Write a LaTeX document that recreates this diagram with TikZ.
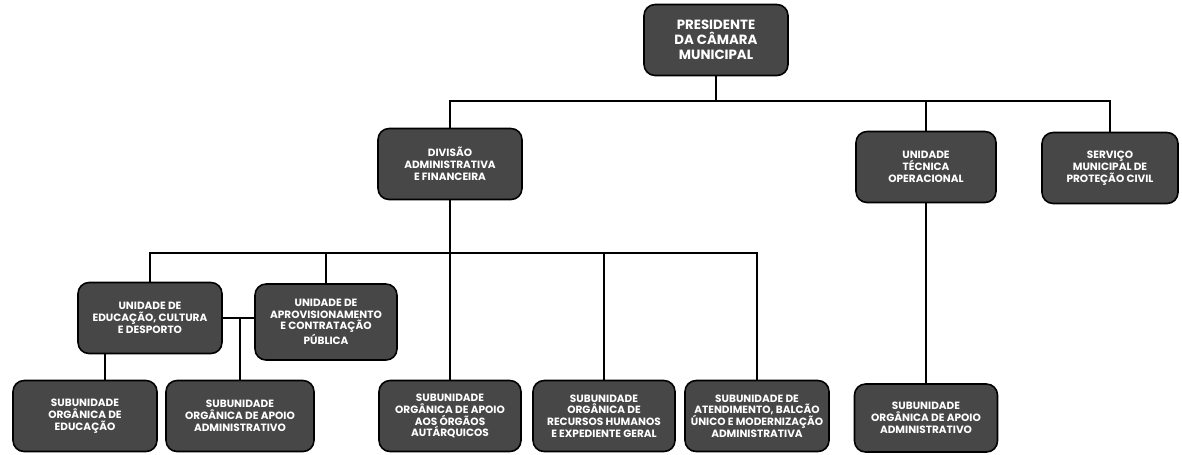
\documentclass[tikz,border=0pt]{standalone}
\usepackage{fontspec}
\setmainfont{Poppins}
\usepackage{tikz}

\tikzset{
  orgbox/.style={draw=black, line width=0.9pt, fill=black!72, rounded corners=0.22cm,
    text=white, font=\fontsize{6}{6.7}\selectfont\bfseries, align=center,
    minimum width=2.88cm, minimum height=1.42cm, inner sep=1pt},
  topbox/.style={orgbox, font=\fontsize{7.6}{8.6}\selectfont\bfseries},
  link/.style={line width=0.8pt}
}

\begin{document}
\begin{tikzpicture}[x=0.02cm, y=-0.02cm]

% page frame (same size as the scan)
\useasboundingbox (0,0) rectangle (1182,454);

% Top level
 \node[topbox] (pres) at (716,40) {PRESIDENTE\\DA CÂMARA\\MUNICIPAL};

% Second level
 \node[orgbox] (div) at (450,164) {DIVISÃO\\ADMINISTRATIVA\\E FINANCEIRA};
 \node[orgbox, minimum width=2.8cm] (tec) at (926,167) {UNIDADE\\TÉCNICA\\OPERACIONAL};
 \node[orgbox, minimum width=2.72cm] (serv) at (1110,168) {SERVIÇO\\MUNICIPAL DE\\PROTEÇÃO CIVIL};

% Units under the division
 \node[orgbox] (edu) at (150,318) {UNIDADE DE\\EDUCAÇÃO, CULTURA\\E DESPORTO};
 \node[orgbox, minimum width=2.84cm, minimum height=1.52cm] (aprov) at (326,322) {UNIDADE DE\\APROVISIONAMENTO\\E CONTRATAÇÃO\\PÚBLICA};

% Bottom row
 \node[orgbox] (subedu) at (85,416) {SUBUNIDADE\\ORGÂNICA DE\\EDUCAÇÃO};
 \node[orgbox, minimum width=2.96cm] (subadm) at (240,416) {SUBUNIDADE\\ORGÂNICA DE APOIO\\ADMINISTRATIVO};
 \node[orgbox, minimum width=2.84cm] (subaut) at (450,416) {SUBUNIDADE\\ORGÂNICA DE APOIO\\AOS ÓRGÃOS\\AUTÁRQUICOS};
 \node[orgbox, minimum width=2.84cm] (subrh) at (604,416) {SUBUNIDADE\\ORGÂNICA DE\\RECURSOS HUMANOS\\E EXPEDIENTE GERAL};
 \node[orgbox] (subbal) at (757,416) {SUBUNIDADE DE\\ATENDIMENTO, BALCÃO\\ÚNICO E MODERNIZAÇÃO\\ADMINISTRATIVA};
 \node[orgbox, minimum width=2.86cm, minimum height=1.36cm] (subtec) at (926,418) {SUBUNIDADE\\ORGÂNICA DE APOIO\\ADMINISTRATIVO};

% Bus lines
 \coordinate (busA) at (0,101);
 \coordinate (busB) at (0,253);

 \draw[link] (pres.south) -- (pres.south |- busA);
 \draw[link] (div.north) |- (serv.north |- busA) -- (serv.north);
 \draw[link] (tec.north) -- (tec.north |- busA);
 \draw[link] (tec.south) -- (subtec.north);

 \draw[link] (div.south) -- (subaut.north);
 \draw[link] (edu.north) |- (subbal.north |- busB) -- (subbal.north);
 \draw[link] (aprov.north) -- (aprov.north |- busB);
 \draw[link] (subrh.north) -- (subrh.north |- busB);

 \draw[link] (edu.east) -- (edu.east -| aprov.west);
 \draw[link] (subadm.north) -- (subadm.north |- edu.east);
 \draw[link] ([xshift=0.4cm]subedu.north) -- ([xshift=0.4cm]subedu.north |- edu.south);

\end{tikzpicture}
\end{document}
